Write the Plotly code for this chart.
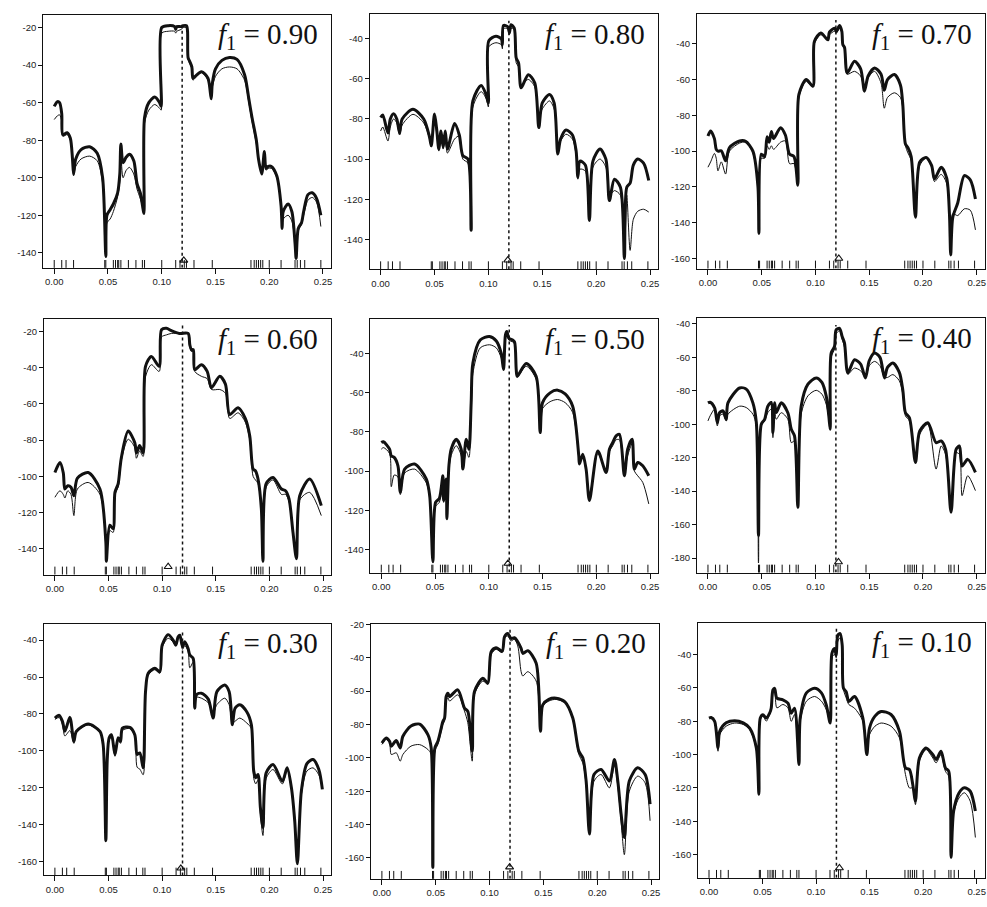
import plotly.graph_objects as go

# ---------------- data ----------------
LABELS = ["0.90", "0.80", "0.70", "0.60", "0.50", "0.40", "0.30", "0.20", "0.10"]

X_090 = [0.000, 0.003, 0.005, 0.007, 0.008, 0.012, 0.015, 0.017, 0.018, 0.020, 0.025, 0.033, 0.040, 0.045, 0.048, 0.049, 0.052, 0.055, 0.059, 0.061, 0.062, 0.064, 0.067, 0.070, 0.074, 0.077, 0.080, 0.083, 0.0835, 0.084, 0.088, 0.0935, 0.098, 0.0995, 0.100, 0.106, 0.112, 0.113, 0.114, 0.118, 0.120, 0.123, 0.124, 0.1245, 0.126, 0.128, 0.129, 0.131, 0.137, 0.143, 0.146, 0.147, 0.150, 0.156, 0.163, 0.170, 0.177, 0.181, 0.184, 0.188, 0.190, 0.193, 0.1955, 0.197, 0.199, 0.202, 0.207, 0.211, 0.212, 0.213, 0.2175, 0.221, 0.224, 0.225, 0.227, 0.230, 0.232, 0.236, 0.240, 0.244, 0.248]
THICK_090 = [-62, -59.5, -60, -66, -77, -76, -79, -90, -98, -90, -85, -83.5, -87, -100, -142, -120, -117, -114, -108, -98, -82, -92, -89, -87.5, -91, -103, -108, -118, -119, -68, -60, -57, -60, -62, -20, -19, -19.5, -21, -19.5, -19.5, -19, -19, -22, -36, -38, -41, -47, -46, -43.5, -47, -58, -50, -42, -37.5, -36, -37, -45, -58, -68, -80, -90, -98, -86, -95, -94, -94, -99, -115, -127, -118, -114, -118, -135, -143, -127, -124, -118, -109, -108, -111, -120]
THIN_090 = [-69, -67, -66.5, -70, -78, -77, -80, -92, -99, -94, -90, -88.5, -91, -103, -140, -124, -122, -118, -110, -102, -88, -100, -96, -94.5, -98, -106, -111, -117, -118, -71, -64, -61, -63, -64, -23, -22, -22, -23, -22, -21, -20, -20, -23, -37, -39, -42, -48, -47, -44, -48, -57, -52, -46, -42, -41, -42, -48, -60, -70, -82, -90, -96, -88, -96, -95, -95, -100, -115, -126, -122, -120, -123, -135, -142, -128, -125, -120, -112, -110.5, -113, -126]

X_080 = [0.000, 0.002, 0.0068, 0.009, 0.012, 0.015, 0.0176, 0.020, 0.030, 0.040, 0.0454, 0.047, 0.050, 0.052, 0.054, 0.056, 0.058, 0.060, 0.062, 0.0686, 0.073, 0.0763, 0.081, 0.084, 0.0856, 0.0933, 0.098, 0.100, 0.1004, 0.107, 0.112, 0.113, 0.114, 0.118, 0.1195, 0.121, 0.124, 0.1258, 0.128, 0.1304, 0.137, 0.143, 0.1468, 0.150, 0.1567, 0.161, 0.1644, 0.167, 0.172, 0.178, 0.1814, 0.183, 0.185, 0.190, 0.1937, 0.197, 0.2036, 0.209, 0.2123, 0.2169, 0.2225, 0.2262, 0.2284, 0.2315, 0.2345, 0.2386, 0.244, 0.2488]
THICK_080 = [-79.3, -78, -87, -80, -77.4, -80, -87, -80, -75.2, -80, -89, -93.4, -77.5, -85, -95, -86, -94, -86, -95, -82.3, -88, -98.3, -100, -135.5, -71, -63.3, -68, -72, -41, -38.8, -40, -43, -33.4, -34, -37, -33, -34.7, -49.6, -52, -64.5, -57.9, -62, -84.3, -72, -67.8, -72, -97.5, -90, -85.5, -88, -95.9, -109, -101, -103, -130.6, -101, -95, -100, -120.7, -110, -114, -149.6, -114, -112, -103, -100, -102, -110.7]
THIN_080 = [-86, -84, -91, -84, -80, -82, -88, -83, -77.7, -82, -90, -94, -80, -87, -96, -88, -95, -90, -97, -90, -88.4, -100, -102, -130, -74, -66.4, -70, -74, -44, -42, -43, -45, -35, -35, -38, -35, -35, -52, -54, -63, -60.3, -64, -80, -75, -71, -75, -95, -91, -87.6, -90, -98, -110, -105, -106, -128, -104, -100, -104, -118, -115.7, -118, -148, -118, -145.5, -130, -126, -125, -126.4]

X_070 = [0.000, 0.0025, 0.006, 0.0077, 0.0093, 0.0124, 0.0164, 0.020, 0.0294, 0.035, 0.0418, 0.0465, 0.0474, 0.0496, 0.0527, 0.055, 0.057, 0.059, 0.061, 0.0675, 0.072, 0.0759, 0.080, 0.0836, 0.0846, 0.0914, 0.0976, 0.099, 0.105, 0.1115, 0.113, 0.1177, 0.1195, 0.1224, 0.1245, 0.1255, 0.127, 0.1295, 0.1363, 0.142, 0.1456, 0.149, 0.155, 0.161, 0.164, 0.167, 0.1735, 0.179, 0.1812, 0.1837, 0.186, 0.189, 0.193, 0.197, 0.2029, 0.208, 0.2107, 0.2169, 0.222, 0.2246, 0.2258, 0.2277, 0.2323, 0.2385, 0.244, 0.2488]
THICK_070 = [-91.5, -88.7, -93, -99, -100, -99.8, -105.4, -98, -94.3, -94.5, -100, -120, -146, -101.7, -103, -92, -95, -89, -93, -86.9, -91, -101.7, -103, -119, -68.3, -60, -63.7, -38.7, -34, -37.8, -33.5, -31.3, -33, -29.8, -33, -40.6, -42, -56.3, -49.8, -54, -66.5, -58, -53.5, -57, -66, -60, -57.2, -63, -73.9, -96, -98, -103, -136.9, -106, -103.5, -108, -115.5, -109, -115, -135, -158, -137, -129, -113.7, -116, -126.7]
THIN_070 = [-109, -106, -101.3, -104, -111, -106, -112.8, -100, -95.5, -95, -101, -121, -144, -104, -104, -97, -99, -97, -99, -95, -94.3, -107, -107, -117, -70, -61, -64, -40, -35, -38, -35, -33, -34, -31, -34, -41, -43, -57, -55.4, -58, -65, -59, -55.4, -62, -76, -70, -67.4, -70, -76, -97, -101, -105, -132, -108, -104, -109, -117, -113, -118, -138, -150, -135, -136, -132.2, -133, -144]

X_060 = [0.000, 0.0047, 0.0078, 0.0093, 0.012, 0.015, 0.0177, 0.021, 0.031, 0.042, 0.0475, 0.048, 0.0512, 0.0543, 0.056, 0.059, 0.0606, 0.062, 0.0683, 0.0745, 0.076, 0.079, 0.0823, 0.0845, 0.090, 0.0972, 0.0994, 0.104, 0.1087, 0.116, 0.1242, 0.1258, 0.1273, 0.129, 0.1304, 0.1366, 0.142, 0.146, 0.1537, 0.159, 0.163, 0.1708, 0.1775, 0.1817, 0.1848, 0.187, 0.1894, 0.1925, 0.194, 0.197, 0.2034, 0.2112, 0.215, 0.2183, 0.222, 0.2252, 0.2283, 0.2376, 0.2484]
THICK_060 = [-97.9, -92.4, -98, -107, -105.2, -106, -110.7, -101, -97.9, -107, -136.3, -147, -127, -129, -108.9, -104, -96, -89.6, -75, -81.4, -87, -83, -87, -39.2, -33.7, -39.2, -19, -18.2, -19.5, -21, -21, -27.3, -30, -30, -41, -38.3, -42, -51, -44.7, -49, -65.8, -62.1, -68, -77.7, -96, -97, -101.5, -118, -147, -104, -100.6, -107, -108, -112.5, -131, -145.5, -110.7, -101.5, -116.2]
THIN_060 = [-111.6, -108, -110, -112, -108, -110, -121.7, -107, -103.4, -110, -138, -146, -130, -131, -110, -106, -98, -91, -79.5, -84, -90, -86, -89, -45, -38.3, -42, -23, -21.8, -21, -21, -21, -28, -31, -31, -42, -44.7, -46, -52, -52, -54, -68, -64.9, -70, -80, -100, -102, -104, -120, -145, -106, -102, -110, -110, -114, -132, -144, -113, -108.9, -121.7]

X_050 = [0.000, 0.002, 0.0077, 0.0093, 0.012, 0.0155, 0.0177, 0.0217, 0.031, 0.0418, 0.045, 0.048, 0.0505, 0.054, 0.0573, 0.058, 0.0604, 0.061, 0.0629, 0.065, 0.0697, 0.0743, 0.0759, 0.079, 0.0815, 0.0836, 0.0852, 0.092, 0.1007, 0.107, 0.1115, 0.1137, 0.1155, 0.1168, 0.1186, 0.1224, 0.124, 0.1255, 0.1264, 0.1348, 0.144, 0.1478, 0.150, 0.157, 0.164, 0.171, 0.178, 0.1837, 0.1843, 0.1874, 0.1905, 0.1936, 0.2014, 0.2091, 0.2122, 0.2153, 0.2184, 0.2215, 0.2261, 0.2292, 0.2333, 0.2354, 0.2385, 0.2432, 0.2488]
THICK_050 = [-85.4, -85, -88.8, -92.2, -93, -97.3, -110.8, -99, -96.4, -104, -112.5, -146.4, -116, -114, -102.4, -115, -104, -124.4, -97.3, -88.8, -83.7, -88.8, -99, -83.7, -88.8, -65, -44.7, -33, -31.2, -33.5, -39.7, -48, -30.3, -28.6, -32, -33, -34, -48, -51.5, -45, -51.5, -80.3, -65, -60, -58.6, -60.5, -66.8, -92.2, -96.4, -91.4, -99, -115, -89.7, -100.7, -88.8, -85.4, -82, -81.2, -102.4, -88.8, -83.7, -99, -95.6, -97.3, -102.4]
THIN_050 = [-88.8, -88, -91, -108, -102, -103, -112, -101, -99, -106, -114, -144, -118, -116, -104, -116, -106, -122, -99, -92, -87, -92, -99, -90, -93, -68, -50, -37, -35.4, -37, -42, -47, -32, -30, -33, -34, -35, -49, -52, -46.4, -53, -78, -68, -64.5, -63.4, -65, -70, -93, -95, -93, -100, -113, -91, -100, -90, -87, -84, -84, -100, -92, -86, -100, -102.4, -105.8, -116.8]

X_040 = [0.000, 0.002, 0.0062, 0.0087, 0.0108, 0.014, 0.017, 0.0186, 0.0294, 0.0356, 0.0418, 0.045, 0.047, 0.0496, 0.0527, 0.0557, 0.0589, 0.0604, 0.062, 0.0635, 0.0682, 0.0743, 0.0775, 0.0805, 0.0836, 0.0867, 0.093, 0.1007, 0.106, 0.110, 0.1124, 0.1137, 0.1146, 0.1177, 0.1192, 0.1224, 0.1248, 0.127, 0.1301, 0.1363, 0.142, 0.1465, 0.150, 0.155, 0.160, 0.1642, 0.167, 0.172, 0.178, 0.1812, 0.1837, 0.1874, 0.193, 0.197, 0.2045, 0.2122, 0.2169, 0.221, 0.2261, 0.2308, 0.2339, 0.2364, 0.2416, 0.2488]
THICK_040 = [-87.2, -86.8, -90.2, -99.1, -93.1, -92, -97.1, -87.2, -78.3, -79, -87.2, -99, -166.5, -100, -97.1, -89.2, -87, -105, -87.2, -93, -87.2, -93.1, -103, -107, -149.7, -89.2, -76, -72.3, -75, -83.2, -95, -103, -57.4, -53.5, -43.6, -42.6, -47.5, -51.5, -69.3, -61.4, -64, -72.3, -62, -57.4, -60, -72.3, -66, -63.4, -69, -79.3, -93.1, -96.1, -122.9, -104, -99.1, -111, -110, -115, -152.6, -115, -113, -125, -121, -128.8]
THIN_040 = [-98, -95, -91, -101, -95, -94, -98, -94, -89.2, -90, -94, -101, -183, -101, -98, -93, -91, -108, -92, -97, -93.1, -97, -111, -110, -148, -94, -83, -79.7, -82, -88, -96, -101, -60, -55, -46, -44, -49, -54, -70, -66.4, -68, -72, -65, -62.4, -65, -72, -72, -70.3, -74, -82, -95, -98, -121, -106, -100, -126.8, -113, -118, -150, -117, -118, -142.7, -130.8, -139.7]

X_030 = [0.000, 0.004, 0.0071, 0.0093, 0.014, 0.0177, 0.020, 0.031, 0.042, 0.045, 0.0475, 0.0488, 0.0506, 0.0528, 0.056, 0.059, 0.0612, 0.063, 0.0699, 0.0745, 0.0767, 0.0792, 0.0823, 0.0845, 0.087, 0.0932, 0.0978, 0.100, 0.1056, 0.1102, 0.1127, 0.1149, 0.1165, 0.119, 0.1211, 0.1242, 0.1258, 0.1289, 0.1304, 0.132, 0.1366, 0.143, 0.1475, 0.151, 0.1584, 0.1625, 0.1655, 0.168, 0.1724, 0.179, 0.1832, 0.1854, 0.1873, 0.1894, 0.1916, 0.194, 0.197, 0.2034, 0.2121, 0.2165, 0.2205, 0.2236, 0.2261, 0.2298, 0.235, 0.2407, 0.246, 0.2494]
THICK_030 = [-82.3, -80.8, -84.1, -89.5, -81.9, -94.9, -89.5, -85.5, -89.5, -96.7, -148.8, -105, -93, -91.3, -102, -93, -94.9, -87.7, -87.3, -91.3, -102, -101.2, -109.3, -67.9, -58, -55.3, -57.1, -42.7, -37, -40, -42.7, -38.2, -37.3, -43.6, -40.9, -44.5, -48.1, -49.9, -76.9, -69.7, -68.8, -72, -82.3, -68, -64.3, -68, -85.9, -77, -75.1, -79, -85.9, -111, -114.7, -112.9, -130.9, -141.7, -112, -107.5, -116.5, -109.3, -120, -138, -161.4, -121.9, -107, -104.8, -110, -121]
THIN_030 = [-83, -82, -86, -92, -89.1, -96, -90, -86, -90, -97, -147, -106, -94, -93, -103, -94, -96, -89, -88, -92, -109, -110, -113, -70, -59, -56, -58, -44, -39, -41, -43, -39, -38, -45, -43, -46, -55, -52, -75, -71, -71.5, -74, -80, -75, -71.5, -75, -85, -84, -82.3, -85, -88, -115, -118, -116, -134, -146, -115, -110.2, -118, -110, -121, -140, -158, -124, -111, -109.3, -113, -120]

X_020 = [0.000, 0.004, 0.0071, 0.0087, 0.0133, 0.017, 0.0195, 0.027, 0.035, 0.0427, 0.0458, 0.0473, 0.0492, 0.052, 0.0551, 0.0566, 0.0582, 0.0597, 0.0613, 0.0628, 0.0705, 0.0767, 0.0798, 0.0839, 0.086, 0.0938, 0.0984, 0.1015, 0.1061, 0.1117, 0.1139, 0.1169, 0.120, 0.1231, 0.1262, 0.1293, 0.1309, 0.1355, 0.1433, 0.1473, 0.1494, 0.155, 0.1618, 0.170, 0.1773, 0.1829, 0.1866, 0.1897, 0.1928, 0.197, 0.2036, 0.2113, 0.216, 0.2191, 0.2222, 0.2252, 0.2298, 0.2376, 0.2445, 0.2491]
THICK_020 = [-91.1, -88.1, -90.1, -93.1, -89.7, -94.1, -87.1, -81, -79.8, -86.1, -94.1, -165.6, -94.1, -90.1, -82.2, -78.2, -76.2, -63.3, -61.3, -63.3, -59.3, -70.2, -72.2, -96, -60.3, -52.4, -55.3, -36.5, -34.1, -36.1, -27.5, -25.6, -28.5, -28.1, -30.5, -34.5, -37.5, -35.9, -43.4, -84.1, -68.3, -65, -64.3, -66.5, -76.2, -96, -100, -113.9, -145.7, -110, -107, -113.9, -101, -113.9, -133.8, -147.7, -113.9, -106, -110, -127.8]
THIN_020 = [-92, -89, -91, -98, -97, -102, -98, -93, -92.1, -95, -98, -164, -96, -92, -84, -80, -78, -66, -64, -66, -62.3, -72, -79, -102, -62, -54, -56, -38, -35, -37, -28, -27, -30, -29, -33, -48.4, -51, -48.4, -54, -82, -69, -66, -65, -67, -77, -98, -103, -116, -144, -114, -110, -118, -104, -117, -138, -158, -120, -111, -115, -137.7]

X_010 = [0.000, 0.002, 0.0053, 0.0084, 0.010, 0.016, 0.024, 0.032, 0.038, 0.0442, 0.0466, 0.0479, 0.0504, 0.0535, 0.0566, 0.0581, 0.0597, 0.0613, 0.0634, 0.069, 0.0737, 0.0768, 0.0799, 0.084, 0.0852, 0.091, 0.0986, 0.105, 0.1095, 0.1132, 0.1148, 0.1172, 0.1188, 0.1203, 0.1225, 0.1244, 0.1256, 0.1281, 0.1306, 0.1359, 0.1437, 0.1474, 0.1499, 0.155, 0.1608, 0.170, 0.1779, 0.1835, 0.1872, 0.1903, 0.1928, 0.1965, 0.2027, 0.209, 0.2121, 0.2167, 0.2208, 0.2239, 0.2261, 0.2285, 0.2335, 0.2385, 0.244, 0.2488]
THICK_010 = [-78.1, -77.8, -80.1, -96, -86.1, -81, -79.7, -81, -84.1, -96, -123.8, -78.1, -76.2, -78.1, -75.2, -72.2, -61.3, -60.3, -66.2, -67.2, -69.2, -75.2, -72.2, -106, -78.1, -63, -60.3, -63, -70.2, -81.1, -39.4, -36.4, -40.4, -28.5, -27.5, -34.4, -60.3, -62.3, -68.2, -65.2, -78.1, -100, -84.1, -77, -74.2, -76, -86.1, -108, -109, -117.9, -127.8, -102, -96, -100, -103, -98, -108, -110, -161.6, -133.8, -123, -119.9, -122, -133.8]
THIN_010 = [-78, -78, -80, -98, -88, -83, -81.1, -82, -85, -97, -124, -79, -77, -80, -76, -73, -63, -62, -72, -70, -72, -80.1, -76, -104, -80, -68, -65.2, -68, -73, -80, -42, -40, -42, -32, -30, -35, -61, -66, -70, -72.2, -80, -98, -88, -83, -81.1, -83, -90, -112, -120, -120, -130, -104, -97, -102, -105, -100, -110, -113, -155, -135, -126, -122.9, -128, -149.7]

FREQ_X = [X_090, X_080, X_070, X_060, X_050, X_040, X_030, X_020, X_010]
THICK = [THICK_090, THICK_080, THICK_070, THICK_060, THICK_050, THICK_040, THICK_030, THICK_020, THICK_010]
THIN = [THIN_090, THIN_080, THIN_070, THIN_060, THIN_050, THIN_040, THIN_030, THIN_020, THIN_010]

RUG = [0.0, 0.007, 0.011, 0.018, 0.047, 0.048, 0.055, 0.057, 0.059, 0.060, 0.062,
       0.069, 0.076, 0.082, 0.084, 0.100, 0.113, 0.117, 0.121, 0.123, 0.130, 0.147,
       0.183, 0.186, 0.188, 0.190, 0.192, 0.194, 0.200, 0.211, 0.224, 0.226, 0.229,
       0.233, 0.248]
DASH_X = 0.119
DASH_TOP = [-17, -31, -26.7, -16.4, -25.3, -40.6, -34.6, -22.6, -24.5]
TRI_X = [0.1205, 0.118, 0.1217, 0.1056, 0.1177, 0.1214, 0.1174, 0.1186, 0.1218]
TRI_Y = [-144, -150.4, -160, -150, -147.3, -182.4, -163.8, -165.5, -168]

X_TICKS = [0.0, 0.05, 0.10, 0.15, 0.20, 0.25]
X_TICKTEXT = ["0.00", "0.05", "0.10", "0.15", "0.20", "0.25"]
Y_TICKS = [
    [-140, -120, -100, -80, -60, -40, -20],
    [-140, -120, -100, -80, -60, -40],
    [-160, -140, -120, -100, -80, -60, -40],
    [-140, -120, -100, -80, -60, -40, -20],
    [-140, -120, -100, -80, -60, -40],
    [-180, -160, -140, -120, -100, -80, -60, -40],
    [-160, -140, -120, -100, -80, -60, -40],
    [-160, -140, -120, -100, -80, -60, -40, -20],
    [-160, -140, -120, -100, -80, -60, -40],
]

# ---------------- layout geometry (pixels) ----------------
W, H = 987, 907
# (left, right, top, bottom) of each panel box
BOX = [
    (43.3, 331.4, 10.0, 264.3), (370.0, 658.8, 9.3, 265.7), (697.7, 985.8, 9.3, 265.0),
    (44.0, 331.4, 315.7, 572.7), (370.7, 658.8, 315.7, 570.7), (697.7, 985.8, 315.0, 570.7),
    (44.0, 331.4, 622.0, 875.3), (371.3, 659.8, 622.0, 878.7), (698.8, 985.7, 621.0, 877.7),
]
YRANGE = [(-148, -13.3), (-154.9, -27.8), (-165.6, -23.5),
          (-154.3, -13.0), (-151.9, -22.2), (-188.7, -36.6),
          (-167.7, -31.0), (-172.5, -19.6), (-173.9, -20.9)]
XRANGE = [-0.0102, 0.2575]

fig = go.Figure()
layout = dict(width=W, height=H, margin=dict(l=0, r=0, t=0, b=0),
              paper_bgcolor="white", plot_bgcolor="white", showlegend=False)
shapes = []
annotations = []
tickfont = dict(family="Liberation Sans, Arial, sans-serif", size=9.5, color="#222")

for i in range(9):
    sfx = "" if i == 0 else str(i + 1)
    xa, ya = "x" + sfx, "y" + sfx
    l, r, t, b = BOX[i]
    y0, y1 = YRANGE[i]

    fig.add_trace(go.Scatter(x=FREQ_X[i], y=THIN[i], mode="lines", xaxis=xa, yaxis=ya,
                             line=dict(color="#111", width=1.0, shape="spline", smoothing=0.8),
                             hoverinfo="skip", cliponaxis=True))
    fig.add_trace(go.Scatter(x=FREQ_X[i], y=THICK[i], mode="lines", xaxis=xa, yaxis=ya,
                             line=dict(color="#111", width=3.0, shape="spline", smoothing=0.8),
                             hoverinfo="skip", cliponaxis=True))
    fig.add_trace(go.Scatter(x=[DASH_X, DASH_X], y=[y0, DASH_TOP[i]], mode="lines",
                             xaxis=xa, yaxis=ya,
                             line=dict(color="#111", width=1.5, dash="3px,3px"), hoverinfo="skip"))
    fig.add_trace(go.Scatter(x=[TRI_X[i]], y=[TRI_Y[i]], mode="markers", xaxis=xa, yaxis=ya,
                             marker=dict(symbol="triangle-up-open", size=7, color="#111",
                                         line=dict(width=1.1, color="#111")),
                             hoverinfo="skip", cliponaxis=False))

    layout["xaxis" + sfx] = dict(
        domain=[l / W, r / W], anchor=ya, range=XRANGE, tickvals=X_TICKS, ticktext=X_TICKTEXT,
        ticks="outside", ticklen=5, tickwidth=1, tickcolor="#111", showline=True,
        linecolor="#111", linewidth=1, mirror=True, showgrid=False, zeroline=False,
        tickfont=tickfont, fixedrange=True)
    layout["yaxis" + sfx] = dict(
        domain=[1 - b / H, 1 - t / H], anchor=xa, range=[y0, y1], tickvals=Y_TICKS[i],
        ticktext=[str(v) for v in Y_TICKS[i]],
        ticks="outside", ticklen=4, tickwidth=1, tickcolor="#111", showline=True,
        linecolor="#111", linewidth=1, mirror=True, showgrid=False, zeroline=False,
        tickfont=tickfont, fixedrange=True)

    for f in RUG:
        shapes.append(dict(type="line", xref=xa, yref=ya + " domain", x0=f, x1=f,
                           y0=0, y1=0.031, line=dict(color="#111", width=1)))

    annotations.append(dict(
        text="<i>f</i><sub>1</sub> = " + LABELS[i], xref=xa + " domain", yref=ya + " domain",
        x=0.962, y=0.915, xanchor="right", yanchor="middle", showarrow=False,
        font=dict(family="Liberation Serif, DejaVu Serif, serif", size=29, color="#111")))

layout["shapes"] = shapes
layout["annotations"] = annotations
fig.update_layout(**layout)
fig.write_html("out.html", config={"displayModeBar": False, "staticPlot": True},
               post_script="document.body.style.margin='0px';document.body.style.overflow='hidden';")
